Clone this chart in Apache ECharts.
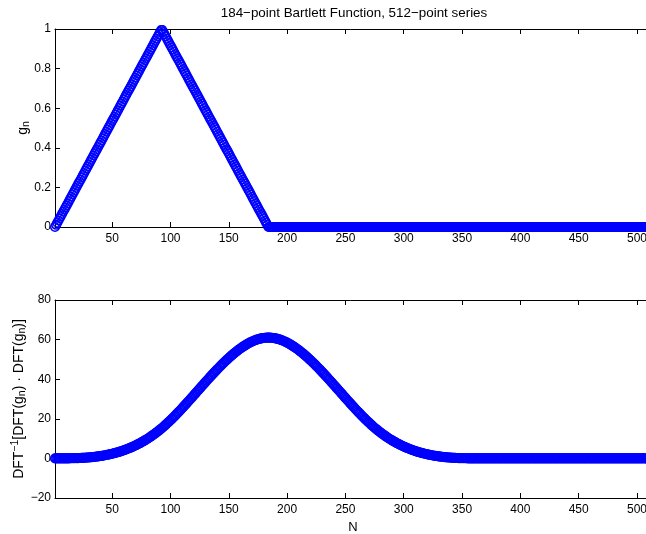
<!DOCTYPE html>
<html>
<head>
<meta charset="utf-8">
<title>Bartlett function and its circular self-convolution</title>
<script src="https://cdn.jsdelivr.net/npm/echarts@6.0.0/dist/echarts.min.js"></script>
<style>
  html, body { margin: 0; padding: 0; background: #fff; }
  #chart { width: 646px; height: 534px; }
</style>
</head>
<body>
<div id="chart"></div>
<script>
// Sample index N runs 1..512 for both panels.
const xTicks = [50, 100, 150, 200, 250, 300, 350, 400, 450, 500];
const gTicks = [0, 0.2, 0.4, 0.6, 0.8, 1];
const cTicks = [-20, 0, 20, 40, 60, 80];

// g_n: 184-point Bartlett window placed at the start of a 512-point series.
const gn = [
  0,.011,.022,.033,.044,.055,.066,.077,.087,.098,
  .109,.120,.131,.142,.153,.164,.175,.186,.197,.208,
  .219,.230,.240,.251,.262,.273,.284,.295,.306,.317,
  .328,.339,.350,.361,.372,.383,.393,.404,.415,.426,
  .437,.448,.459,.470,.481,.492,.503,.514,.525,.536,
  .546,.557,.568,.579,.590,.601,.612,.623,.634,.645,
  .656,.667,.678,.689,.699,.710,.721,.732,.743,.754,
  .765,.776,.787,.798,.809,.820,.831,.842,.852,.863,
  .874,.885,.896,.907,.918,.929,.940,.951,.962,.973,
  .984,.995,
  .995,.984,
  .973,.962,.951,.940,.929,.918,.907,.896,.885,.874,
  .863,.852,.842,.831,.820,.809,.798,.787,.776,.765,
  .754,.743,.732,.721,.710,.699,.689,.678,.667,.656,
  .645,.634,.623,.612,.601,.590,.579,.568,.557,.546,
  .536,.525,.514,.503,.492,.481,.470,.459,.448,.437,
  .426,.415,.404,.393,.383,.372,.361,.350,.339,.328,
  .317,.306,.295,.284,.273,.262,.251,.240,.230,.219,
  .208,.197,.186,.175,.164,.153,.142,.131,.120,.109,
  .098,.087,.077,.066,.055,.044,.033,.022,.011,0,
  0,0,0,0,0,0,0,0,0,0,0,0,0,0,0,0,0,0,0,0,
  0,0,0,0,0,0,0,0,0,0,0,0,0,0,0,0,0,0,0,0,
  0,0,0,0,0,0,0,0,0,0,0,0,0,0,0,0,0,0,0,0,
  0,0,0,0,0,0,0,0,0,0,0,0,0,0,0,0,0,0,0,0,
  0,0,0,0,0,0,0,0,0,0,0,0,0,0,0,0,0,0,0,0,
  0,0,0,0,0,0,0,0,0,0,0,0,0,0,0,0,0,0,0,0,
  0,0,0,0,0,0,0,0,0,0,0,0,0,0,0,0,0,0,0,0,
  0,0,0,0,0,0,0,0,0,0,0,0,0,0,0,0,0,0,0,0,
  0,0,0,0,0,0,0,0,0,0,0,0,0,0,0,0,0,0,0,0,
  0,0,0,0,0,0,0,0,0,0,0,0,0,0,0,0,0,0,0,0,
  0,0,0,0,0,0,0,0,0,0,0,0,0,0,0,0,0,0,0,0,
  0,0,0,0,0,0,0,0,0,0,0,0,0,0,0,0,0,0,0,0,
  0,0,0,0,0,0,0,0,0,0,0,0,0,0,0,0,0,0,0,0,
  0,0,0,0,0,0,0,0,0,0,0,0,0,0,0,0,0,0,0,0,
  0,0,0,0,0,0,0,0,0,0,0,0,0,0,0,0,0,0,0,0,
  0,0,0,0,0,0,0,0,0,0,0,0,0,0,0,0,0,0,0,0,
  0,0,0,0,0,0,0,0
];

// Inverse DFT of the squared spectrum: circular self-convolution of g_n.
const conv = [
  0,0,0,0,0,0,0,.01,.01,.01,
  .02,.03,.03,.04,.05,.07,.08,.10,.12,.14,
  .16,.18,.21,.24,.28,.31,.35,.39,.44,.49,
  .54,.59,.65,.72,.78,.85,.93,1.01,1.09,1.18,
  1.27,1.37,1.47,1.58,1.70,1.81,1.94,2.07,2.20,2.34,
  2.49,2.64,2.80,2.96,3.13,3.31,3.50,3.69,3.88,4.09,
  4.30,4.52,4.74,4.98,5.22,5.47,5.72,5.99,6.26,6.54,
  6.83,7.13,7.43,7.74,8.07,8.40,8.74,9.09,9.45,9.81,
  10.19,10.58,10.98,11.38,11.80,12.23,12.66,13.11,13.57,14.03,
  14.51,15.00,
  15.50,16.01,16.53,17.06,17.60,18.16,18.71,19.28,19.86,20.44,
  21.03,21.63,22.24,22.85,23.47,24.09,24.72,25.35,25.99,26.64,
  27.28,27.93,28.59,29.24,29.90,30.56,31.23,31.89,32.56,33.22,
  33.89,34.56,35.22,35.89,36.55,37.22,37.88,38.54,39.19,39.85,
  40.50,41.14,41.79,42.42,43.06,43.69,44.31,44.93,45.54,46.15,
  46.74,47.34,47.92,48.50,49.06,49.62,50.17,50.71,51.25,51.77,
  52.28,52.78,53.27,53.74,54.21,54.66,55.10,55.53,55.95,56.35,
  56.73,57.11,57.46,57.81,58.14,58.45,58.74,59.02,59.28,59.53,
  59.76,59.97,60.16,60.33,60.49,60.62,60.73,60.83,60.90,60.96,
  60.99,61.00,
  60.99,60.96,60.90,60.83,60.73,60.62,60.49,60.33,60.16,59.97,
  59.76,59.53,59.28,59.02,58.74,58.45,58.14,57.81,57.46,57.11,
  56.73,56.35,55.95,55.53,55.10,54.66,54.21,53.74,53.27,52.78,
  52.28,51.77,51.25,50.71,50.17,49.62,49.06,48.50,47.92,47.34,
  46.74,46.15,45.54,44.93,44.31,43.69,43.06,42.42,41.79,41.14,
  40.50,39.85,39.19,38.54,37.88,37.22,36.55,35.89,35.22,34.56,
  33.89,33.22,32.56,31.89,31.23,30.56,29.90,29.24,28.59,27.93,
  27.28,26.64,25.99,25.35,24.72,24.09,23.47,22.85,22.24,21.63,
  21.03,20.44,19.86,19.28,18.71,18.16,17.60,17.06,16.53,16.01,
  15.50,
  15.00,14.51,
  14.03,13.57,13.11,12.66,12.23,11.80,11.38,10.98,10.58,10.19,
  9.81,9.45,9.09,8.74,8.40,8.07,7.74,7.43,7.13,6.83,
  6.54,6.26,5.99,5.72,5.47,5.22,4.98,4.74,4.52,4.30,
  4.09,3.88,3.69,3.50,3.31,3.13,2.96,2.80,2.64,2.49,
  2.34,2.20,2.07,1.94,1.81,1.70,1.58,1.47,1.37,1.27,
  1.18,1.09,1.01,.93,.85,.78,.72,.65,.59,.54,
  .49,.44,.39,.35,.31,.28,.24,.21,.18,.16,
  .14,.12,.10,.08,.07,.05,.04,.03,.03,.02,
  .01,.01,.01,0,0,0,0,0,0,0,
  0,0,0,0,0,0,0,0,0,0,0,0,0,0,0,0,0,0,0,0,
  0,0,0,0,0,0,0,0,0,0,0,0,0,0,0,0,0,0,0,0,
  0,0,0,0,0,0,0,0,0,0,0,0,0,0,0,0,0,0,0,0,
  0,0,0,0,0,0,0,0,0,0,0,0,0,0,0,0,0,0,0,0,
  0,0,0,0,0,0,0,0,0,0,0,0,0,0,0,0,0,0,0,0,
  0,0,0,0,0,0,0,0,0,0,0,0,0,0,0,0,0,0,0,0,
  0,0,0,0,0,0,0,0,0,0,0,0,0,0,0,0,0,0,0,0,
  0,0,0,0,0
];

const FONT = '"Liberation Sans", Arial, Helvetica, sans-serif';
const BLUE = '#0000ff';
const minus = v => String(v).replace('-', '\u2212');

function xAxis(gridIndex, position, labelled, name) {
  return {
    type: 'value', gridIndex, position, min: 1, max: 512,
    axisLine: { show: true, onZero: false, lineStyle: { color: '#000', width: 1 } },
    axisTick: { show: true, inside: true, length: 5, customValues: xTicks,
      lineStyle: { color: '#000', width: 1 } },
    axisLabel: { show: labelled, customValues: xTicks, margin: 6, color: '#000',
      fontSize: 12, fontFamily: FONT, hideOverlap: false },
    splitLine: { show: false },
    name: name || '', nameLocation: 'middle', nameGap: 23, nameMoveOverlap: false,
    nameTextStyle: { color: '#000', fontSize: 13, fontFamily: FONT }
  };
}

function yAxis(gridIndex, position, ticks, labelled, name, rich, gap) {
  return {
    type: 'value', gridIndex, position,
    min: ticks[0], max: ticks[ticks.length - 1], interval: ticks[1] - ticks[0],
    axisLine: { show: true, onZero: false, lineStyle: { color: '#000', width: 1 } },
    axisTick: { show: true, inside: true, length: 5, lineStyle: { color: '#000', width: 1 } },
    axisLabel: { show: labelled, margin: 4, color: '#000', fontSize: 12, fontFamily: FONT,
      formatter: minus },
    splitLine: { show: false },
    name: name || '', nameLocation: 'middle', nameRotate: 90, nameGap: gap || 20,
    nameMoveOverlap: false,
    nameTextStyle: { color: '#000', fontSize: 14, fontFamily: FONT, rich: rich || {} }
  };
}

const labelRich = {
  m: { fontSize: 14, fontFamily: FONT, color: '#000', lineHeight: 18 },
  s: { fontSize: 10.5, fontFamily: FONT, color: '#000', lineHeight: 10, verticalAlign: 'bottom' },
  p: { fontSize: 10.5, fontFamily: FONT, color: '#000', lineHeight: 10, verticalAlign: 'top' }
};

function markers(values, xi, yi) {
  return {
    type: 'scatter', xAxisIndex: xi, yAxisIndex: yi,
    data: values.map((v, i) => [i + 1, v]),
    symbol: 'circle', symbolSize: 8.6, clip: false, silent: true, z: 3,
    itemStyle: { color: 'rgba(0,0,0,0)', borderColor: BLUE, borderWidth: 1.5, opacity: 1 },
    emphasis: { disabled: true }
  };
}

const gridBase = { left: 55, width: 596, height: 198, containLabel: false, outerBoundsMode: 'none' };

const chart = echarts.init(document.getElementById('chart'), null, { renderer: 'canvas' });
chart.setOption({
  animation: false,
  backgroundColor: '#fff',
  title: {
    text: '184\u2212point Bartlett Function, 512\u2212point series',
    left: 354, top: 7, textAlign: 'center', padding: 0,
    textStyle: { fontSize: 13.4, fontWeight: 'normal', color: '#000', fontFamily: FONT }
  },
  grid: [
    Object.assign({ top: 29 }, gridBase),
    Object.assign({ top: 300 }, gridBase)
  ],
  xAxis: [
    xAxis(0, 'bottom', true),
    xAxis(0, 'top', false),
    xAxis(1, 'bottom', true, 'N'),
    xAxis(1, 'top', false)
  ],
  yAxis: [
    yAxis(0, 'left', gTicks, true, '{m|g}{s|n}', labelRich, 23),
    yAxis(0, 'right', gTicks, false),
    yAxis(1, 'left', cTicks, true,
      '{m|DFT}{p|\u22121}{m|[DFT(g}{s|n}{m|) \u00b7 DFT(g}{s|n}{m|)]}', labelRich, 27),
    yAxis(1, 'right', cTicks, false)
  ],
  series: [
    markers(gn, 0, 0),
    markers(conv, 2, 2)
  ]
});
</script>
</body>
</html>
